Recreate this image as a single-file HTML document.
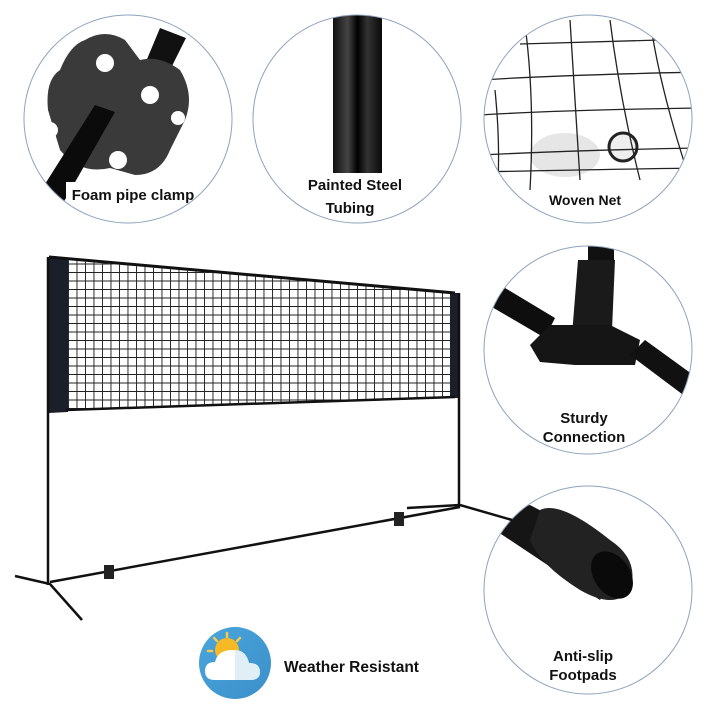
<!DOCTYPE html>
<html><head><meta charset="utf-8"><style>
html,body{margin:0;padding:0;background:#fff;}
svg{display:block;}
text{font-family:"Liberation Sans",sans-serif;font-weight:bold;fill:#111;}
</style></head><body>
<svg width="720" height="720" viewBox="0 0 720 720" xmlns="http://www.w3.org/2000/svg">
<defs>
<clipPath id="c1"><circle cx="128" cy="119" r="104"/></clipPath>
<clipPath id="c2"><circle cx="357" cy="119" r="104"/></clipPath>
<clipPath id="c3"><circle cx="588" cy="119" r="104"/></clipPath>
<clipPath id="c4"><circle cx="588" cy="350" r="104"/></clipPath>
<clipPath id="c5"><circle cx="588" cy="590" r="104"/></clipPath>
<pattern id="mesh" width="8.5" height="8.5" patternUnits="userSpaceOnUse">
<rect width="8.5" height="8.5" fill="#fff"/>
<path d="M0 0H8.5M0 0V8.5" stroke="#222" stroke-width="1.9"/>
</pattern>
<linearGradient id="tube" x1="0" x2="1"><stop offset="0" stop-color="#111"/><stop offset=".3" stop-color="#444"/><stop offset=".5" stop-color="#000"/><stop offset=".7" stop-color="#333"/><stop offset="1" stop-color="#0a0a0a"/></linearGradient>
<linearGradient id="sky" x1="0" y1="0" x2="1" y2="1"><stop offset="0" stop-color="#4aa6dc"/><stop offset="1" stop-color="#3b8fc9"/></linearGradient>
</defs>

<!-- circle 1 foam clamp -->
<g clip-path="url(#c1)">
<rect x="0" y="0" width="260" height="240" fill="#fff"/>
<path d="M160 28 L186 38 L150 110 L130 100 Z" fill="#111"/>
<path d="M85 40 Q105 28 125 40 L140 60 Q160 55 180 70 Q195 95 185 120 L170 150 Q160 175 135 175 L110 168 Q80 175 60 150 L48 110 Q45 80 60 70 Q70 45 85 40Z" fill="#3a3a3a"/>
<circle cx="105" cy="63" r="9" fill="#fff"/><circle cx="150" cy="95" r="9" fill="#fff"/>
<circle cx="118" cy="160" r="9" fill="#fff"/><circle cx="50" cy="130" r="8" fill="#fff"/><circle cx="178" cy="118" r="7" fill="#fff"/>
<path d="M95 105 L115 112 L62 205 L40 192Z" fill="#0b0b0b"/>
<rect x="66" y="182" width="140" height="22" fill="#fff"/>
</g>
<circle cx="128" cy="119" r="104" fill="none" stroke="#8fa3bd" stroke-width="1"/>
<text x="133" y="200" font-size="15" text-anchor="middle">Foam pipe clamp</text>

<!-- circle 2 tubing -->
<g clip-path="url(#c2)">
<rect x="333" y="10" width="49" height="163" fill="url(#tube)"/>
</g>
<circle cx="357" cy="119" r="104" fill="none" stroke="#8fa3bd" stroke-width="1"/>
<text x="355" y="190" font-size="15" text-anchor="middle">Painted Steel</text>
<text x="350" y="213" font-size="15" text-anchor="middle">Tubing</text>

<!-- circle 3 net -->
<g clip-path="url(#c3)">
<ellipse cx="565" cy="155" rx="35" ry="22" fill="#e6e6e6"/>
<circle cx="623" cy="147" r="14" fill="#eee" stroke="#222" stroke-width="3"/>
<g stroke="#222" stroke-width="1.3" fill="none">
<path d="M520 44 Q580 42 660 40"/><path d="M480 80 Q560 75 700 72"/><path d="M480 115 Q560 110 700 108"/><path d="M480 155 Q580 150 700 148"/><path d="M480 172 Q560 170 700 168"/>
<path d="M525 25 Q535 100 530 190"/><path d="M570 20 Q575 100 580 180"/><path d="M610 20 Q620 100 640 180"/><path d="M650 20 Q660 90 690 180"/><path d="M495 90 Q500 140 498 180"/>
</g>
</g>
<circle cx="588" cy="119" r="104" fill="none" stroke="#8fa3bd" stroke-width="1"/>
<text x="585" y="205" font-size="14" text-anchor="middle">Woven Net</text>

<!-- circle 4 connection -->
<g clip-path="url(#c4)">
<rect x="588" y="240" width="26" height="30" fill="#111"/>
<path d="M578 260 L615 260 L612 330 L572 335 Z" fill="#1a1a1a"/>
<path d="M480 300 L495 282 L555 318 L545 338Z" fill="#0e0e0e"/>
<path d="M530 345 L550 325 L610 325 L640 340 L635 365 L575 365 L540 362Z" fill="#151515"/>
<path d="M630 355 L645 340 L700 380 L690 400Z" fill="#111"/>
</g>
<circle cx="588" cy="350" r="104" fill="none" stroke="#8fa3bd" stroke-width="1"/>
<text x="584" y="423" font-size="15" text-anchor="middle">Sturdy</text>
<text x="584" y="442" font-size="15" text-anchor="middle">Connection</text>

<!-- circle 5 footpad -->
<g clip-path="url(#c5)">
<path d="M480 520 L530 505 L625 555 L600 600Z" fill="#151515"/>
<path d="M540 510 Q560 500 610 540 Q640 560 630 590 Q615 610 580 590 Q540 565 530 540Z" fill="#222"/>
<ellipse cx="612" cy="575" rx="18" ry="26" transform="rotate(-35 612 575)" fill="#0a0a0a"/>
</g>
<circle cx="588" cy="590" r="104" fill="none" stroke="#8fa3bd" stroke-width="1"/>
<text x="583" y="661" font-size="15" text-anchor="middle">Anti-slip</text>
<text x="583" y="680" font-size="15" text-anchor="middle">Footpads</text>

<!-- main net -->
<polygon points="66,260 452,294 452,398 66,411" fill="url(#mesh)"/>
<polygon points="49,257 68,259 68,412 49,413" fill="#1b1f2a"/>
<polygon points="450,293 458,293 458,398 450,398" fill="#1b1f2a"/>
<path d="M49 257 L455 293" stroke="#111" stroke-width="3"/>
<path d="M66 410 L455 397" stroke="#111" stroke-width="2.5"/>
<path d="M48 257 V585" stroke="#111" stroke-width="2.5"/>
<path d="M459 293 V507" stroke="#111" stroke-width="2.5"/>
<path d="M50 582 L460 507" stroke="#111" stroke-width="2.5"/>
<path d="M15 576 L50 584 L82 620" stroke="#111" stroke-width="2.5" fill="none"/>
<path d="M407 508 L460 505 L512 520" stroke="#111" stroke-width="2.5" fill="none"/>
<rect x="104" y="565" width="10" height="14" fill="#222"/>
<rect x="394" y="512" width="10" height="14" fill="#222"/>

<!-- weather icon -->
<circle cx="235" cy="663" r="36" fill="url(#sky)"/>
<circle cx="227" cy="650" r="12" fill="#f7b924"/>
<g stroke="#f7c948" stroke-width="2.5" stroke-linecap="round">
<path d="M227 633 V637"/><path d="M214 638 L217 641"/><path d="M240 638 L237 641"/><path d="M208 651 H212"/>
</g>
<path d="M215 680 Q205 680 205 671 Q205 662 215 662 Q218 650 232 650 Q246 650 249 663 Q260 663 260 672 Q260 680 250 680Z" fill="#fff"/>
<path d="M235 650 Q246 650 249 663 Q260 663 260 672 Q260 680 250 680 L235 680Z" fill="#e0eef6"/>
<text x="284" y="672" font-size="15.5">Weather Resistant</text>
</svg>
</body></html>
